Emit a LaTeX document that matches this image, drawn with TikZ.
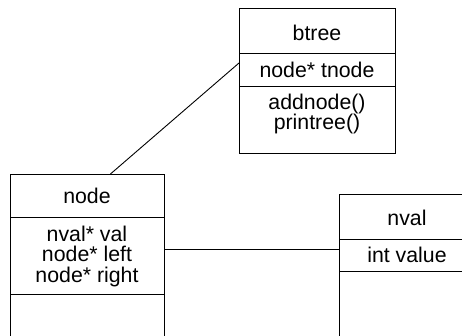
\documentclass[tikz,border=0pt]{standalone}
\usepackage{fontspec}
\setmainfont{Liberation Sans}
\begin{document}
\begin{tikzpicture}[x=1pt,y=-1pt,
  box/.style={draw, line width=0.9pt, rectangle, inner sep=0pt, anchor=north west},
  txt/.style={font=\fontsize{21.3}{20.5}\selectfont, inner sep=0pt, align=center},
  conn/.style={line width=0.9pt}]
\useasboundingbox (0,0) rectangle (462,336);
\clip (0,0) rectangle (462,336);
% btree class
\node[box, minimum width=156pt, minimum height=145pt] (btree) at (239,8) {};
\draw[conn] (239,53) -- (395,53);
\draw[conn] (239,86) -- (395,86);
\node[txt] (bname) at (317,33) {btree};
\node[txt] (battr) at (317,70) {node* tnode};
\node[txt] (bops) at (317,114) {addnode()\\printree()};
% node class
\node[box, minimum width=154pt, minimum height=190pt] (nodebox) at (10,174) {};
\draw[conn] (10,217) -- (164,217);
\draw[conn] (10,294) -- (164,294);
\node[txt] (nname) at (87,196) {node};
\node[txt] (nattr) at (87,256) {nval* val\\node* left\\node* right};
% nval class
\node[box, minimum width=140pt, minimum height=160pt] (nval) at (339,194) {};
\draw[conn] (339,239) -- (479,239);
\draw[conn] (339,271) -- (479,271);
\node[txt] (vname) at (407,218) {nval};
\node[txt] (vattr) at (407,255) {int value};
% connectors
\draw[conn] ([xshift=23pt]nodebox.north) -- ([yshift=-55pt]btree.north west);
\draw[conn] ([yshift=-75pt]nodebox.north east) -- ([yshift=-55pt]nval.north west);
\end{tikzpicture}
\end{document}
